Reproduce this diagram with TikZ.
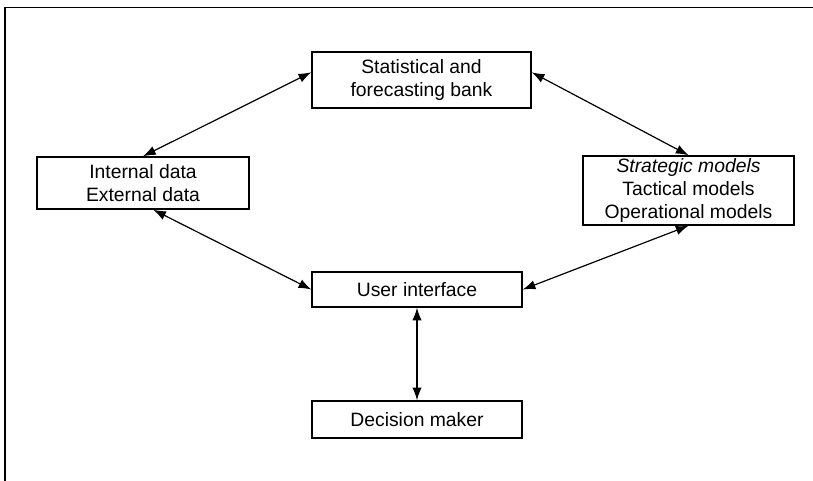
\documentclass[tikz,border=0pt]{standalone}
\usepackage{fontspec}
\setmainfont{Liberation Sans}
\usetikzlibrary{arrows.meta}

\tikzstyle{block}=[draw, line width=1.1pt, align=center, font=\fontsize{14.5}{17.5}\selectfont, inner sep=0pt]
\tikzstyle{link}=[{Latex[length=9.5pt,width=7pt]}-{Latex[length=9.5pt,width=7pt]}, line width=0.9pt]

\begin{document}
\begin{tikzpicture}[x=0.75pt, y=-0.75pt]
      \useasboundingbox (0,0) rectangle (813,481);
      \draw[line width=1.1pt] (5,481) -- (5,7.5) -- (813,7.5);
      \node[block, minimum width=219*0.75pt, minimum height=56*0.75pt] (bank) at (421.5,80) {Statistical and\\forecasting bank};
      \node[block, minimum width=212*0.75pt, minimum height=52*0.75pt] (data) at (143,183) {Internal data\\External data};
      \node[block, minimum width=211*0.75pt, minimum height=69*0.75pt] (models) at (688.5,190.5) {\textit{Strategic models}\\Tactical models\\Operational models};
      \node[block, minimum width=210*0.75pt, minimum height=35*0.75pt] (ui) at (417,289.5) {User interface};
      \node[block, minimum width=210*0.75pt, minimum height=37*0.75pt] (dm) at (417,419.5) {Decision maker};
      \draw[link] (data.north) to (bank.176);
      \draw[link] (bank.4) to (models.north);
      \draw[link] (data.291) to (ui.west);
      \draw[link] (models.south) to (ui.east);
      \draw[link] (ui.south) to (dm.north);
    \end{tikzpicture}
\end{document}
